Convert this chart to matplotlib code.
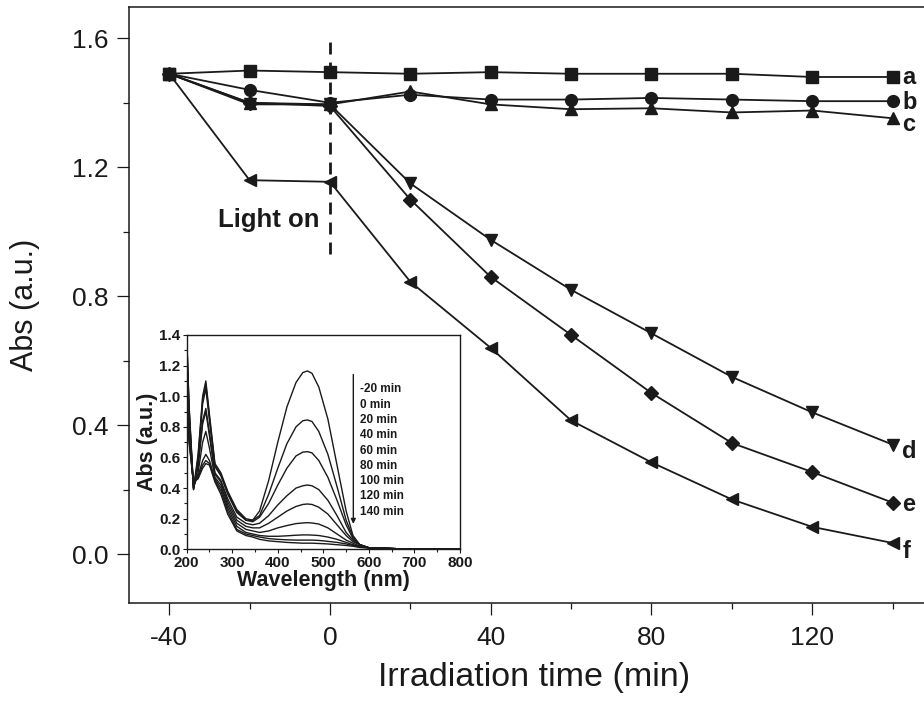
import numpy as np
import matplotlib
matplotlib.use('Agg')
import matplotlib.pyplot as plt
from matplotlib.ticker import MultipleLocator

plt.rcParams['font.family'] = ['Liberation Sans', 'DejaVu Sans']
plt.rcParams['axes.unicode_minus'] = False

# Main kinetics data (Abs at 465 nm vs irradiation time)
time_min = [-40, -20, 0, 20, 40, 60, 80, 100, 120, 140]
abs_a = [1.49, 1.50, 1.495, 1.49, 1.495, 1.49, 1.49, 1.49, 1.48, 1.48]
abs_b = [1.49, 1.44, 1.40, 1.425, 1.41, 1.41, 1.415, 1.41, 1.405, 1.405]
abs_c = [1.49, 1.40, 1.395, 1.435, 1.395, 1.38, 1.383, 1.37, 1.376, 1.352]
abs_d = [1.49, 1.395, 1.395, 1.15, 0.975, 0.82, 0.685, 0.55, 0.44, 0.34]
abs_e = [1.49, 1.40, 1.39, 1.10, 0.86, 0.68, 0.50, 0.345, 0.255, 0.16]
abs_f = [1.49, 1.16, 1.155, 0.845, 0.64, 0.415, 0.285, 0.17, 0.085, 0.035]

series_labels = ['a', 'b', 'c', 'd', 'e', 'f']
series_markers = ['s', 'o', '^', 'v', 'D', '<']
label_baselines = [1.458, 1.380, 1.313, 0.298, 0.135, -0.012]

# Inset: UV-vis spectra
wavelength = [200, 205, 215, 225, 235, 242, 250, 262, 275, 290, 310, 330, 345, 360,
              380, 400, 420, 440, 455, 465, 475, 490, 510, 530, 550, 565, 580, 600,
              700, 800]
spec_m20 = [1.40, 0.95, 0.40, 0.62, 1.00, 1.10, 0.88, 0.56, 0.50, 0.38, 0.26, 0.20, 0.19, 0.25,
            0.45, 0.70, 0.93, 1.09, 1.155, 1.165, 1.15, 1.06, 0.85, 0.55, 0.25, 0.09, 0.03, 0.01,
            0.0, 0.0]
spec_0 = [1.40, 0.94, 0.39, 0.60, 0.98, 1.08, 0.86, 0.55, 0.49, 0.37, 0.25, 0.19, 0.19, 0.22,
          0.36, 0.53, 0.69, 0.80, 0.84, 0.845, 0.835, 0.77, 0.62, 0.41, 0.19, 0.08, 0.03, 0.01,
          0.0, 0.0]
spec_20 = [1.38, 0.92, 0.39, 0.58, 0.95, 1.05, 0.84, 0.54, 0.48, 0.36, 0.24, 0.19, 0.18, 0.21,
           0.30, 0.42, 0.53, 0.61, 0.635, 0.638, 0.63, 0.58, 0.47, 0.32, 0.16, 0.07, 0.03, 0.01,
           0.0, 0.0]
spec_40 = [1.30, 0.88, 0.40, 0.55, 0.84, 0.92, 0.76, 0.50, 0.45, 0.33, 0.21, 0.17, 0.16, 0.17,
           0.22, 0.29, 0.35, 0.40, 0.415, 0.42, 0.415, 0.39, 0.32, 0.22, 0.11, 0.06, 0.03, 0.01,
           0.0, 0.0]
spec_60 = [1.28, 0.86, 0.40, 0.54, 0.82, 0.90, 0.74, 0.49, 0.44, 0.31, 0.19, 0.15, 0.14, 0.14,
           0.17, 0.21, 0.25, 0.28, 0.293, 0.296, 0.293, 0.275, 0.23, 0.16, 0.09, 0.05, 0.03, 0.01,
           0.0, 0.0]
spec_80 = [1.20, 0.80, 0.40, 0.50, 0.70, 0.77, 0.66, 0.47, 0.42, 0.29, 0.17, 0.13, 0.12, 0.11,
           0.12, 0.14, 0.155, 0.168, 0.172, 0.174, 0.172, 0.165, 0.14, 0.10, 0.06, 0.04, 0.02,
           0.01, 0.0, 0.0]
spec_100 = [1.10, 0.75, 0.42, 0.48, 0.58, 0.62, 0.58, 0.46, 0.40, 0.27, 0.15, 0.11, 0.10, 0.09,
            0.085, 0.085, 0.088, 0.092, 0.094, 0.094, 0.093, 0.09, 0.08, 0.065, 0.045, 0.03,
            0.02, 0.01, 0.0, 0.0]
spec_120 = [1.05, 0.72, 0.43, 0.47, 0.55, 0.58, 0.56, 0.45, 0.38, 0.25, 0.13, 0.10, 0.09, 0.08,
            0.07, 0.065, 0.062, 0.06, 0.06, 0.06, 0.06, 0.058, 0.052, 0.045, 0.035, 0.025,
            0.015, 0.01, 0.0, 0.0]
spec_140 = [1.00, 0.70, 0.44, 0.46, 0.53, 0.56, 0.55, 0.44, 0.36, 0.23, 0.12, 0.09, 0.08, 0.065,
            0.055, 0.05, 0.045, 0.042, 0.04, 0.04, 0.04, 0.038, 0.035, 0.03, 0.025, 0.02,
            0.012, 0.008, 0.0, 0.0]
spec_labels = ['-20 min', '0 min', '20 min', '40 min', '60 min', '80 min',
               '100 min', '120 min', '140 min']

ink = '#1a1a1a'

fig = plt.figure(figsize=(9.24, 7.06), dpi=100)
ax = fig.add_axes([129 / 924, 1 - 603.3 / 706, 1 - 129 / 924, (603.3 - 7) / 706])

all_series = [abs_a, abs_b, abs_c, abs_d, abs_e, abs_f]
msizes = [8, 8.5, 9, 9, 6.8, 9]
for vals, mk, ms, lab, yb in zip(all_series, series_markers, msizes, series_labels,
                                 label_baselines):
    ax.plot(time_min, vals, color=ink, lw=1.3, marker=mk, ms=ms, mfc=ink, mec=ink)
    ax.text(time_min[-1] + 2.4, yb, lab, fontsize=17, fontweight='bold',
            color=ink, ha='left', va='baseline')

# light on marker
ax.vlines(0, 0.93, 1.60, colors=ink, linestyles=(0, (4.3, 2.9)), lw=2.0)
ax.text(-2.5, 1.036, 'Light on', fontsize=18.5, fontweight='bold', color=ink,
        ha='right', va='center')

ax.set_xlim(-50, 147.8)
ax.set_ylim(-0.152, 1.697)
ax.xaxis.set_major_locator(MultipleLocator(40))
ax.xaxis.set_minor_locator(MultipleLocator(20))
ax.yaxis.set_major_locator(MultipleLocator(0.4))
ax.yaxis.set_minor_locator(MultipleLocator(0.2))
ax.yaxis.set_major_formatter(plt.FormatStrFormatter('%.1f'))
ax.tick_params(which='major', direction='out', length=8.5, width=0.9, labelsize=19,
               color=ink, labelcolor=ink)
ax.tick_params(which='minor', direction='out', length=4.5, width=0.9, color=ink)
ax.tick_params(axis='y', pad=6)
ax.tick_params(axis='x', pad=8)
ax.spines['right'].set_visible(False)
for s in ['left', 'top', 'bottom']:
    ax.spines[s].set_linewidth(1.1)
    ax.spines[s].set_color(ink)
ax.set_ylabel('Abs (a.u.)', fontsize=22, color=ink)
ax.set_xlabel('Irradiation time (min)', fontsize=24.5, color=ink)
ax.yaxis.set_label_coords(-0.112, 0.5)
ax.xaxis.set_label_coords(0.51, -0.098)

# Inset
ins = fig.add_axes([186.7 / 924, 1 - 549.3 / 706, (460 - 186.7) / 924, (549.3 - 335) / 706])
spectra = [spec_m20, spec_0, spec_20, spec_40, spec_60, spec_80, spec_100, spec_120, spec_140]
for sp in spectra:
    ins.plot(wavelength, sp, color=ink, lw=1.0)
ins.set_xlim(200, 800)
ins.set_ylim(0, 1.4)
ins.xaxis.set_major_locator(MultipleLocator(100))
ins.xaxis.set_minor_locator(MultipleLocator(50))
ins.yaxis.set_major_locator(MultipleLocator(0.2))
ins.yaxis.set_minor_locator(MultipleLocator(0.1))
ins.yaxis.set_major_formatter(plt.FormatStrFormatter('%.1f'))
ins.tick_params(which='major', direction='out', length=3, width=0.8, labelsize=11, pad=1.5,
                color=ink, labelcolor=ink)
ins.tick_params(which='minor', direction='out', length=2, width=0.8, color=ink)
for lbl in ins.get_xticklabels() + ins.get_yticklabels():
    lbl.set_fontweight('bold')
for s in ins.spines.values():
    s.set_linewidth(1.0)
    s.set_color(ink)
ins.set_xlabel('Wavelength (nm)', fontsize=15.5, fontweight='bold', color=ink, labelpad=0)
ins.set_ylabel('Abs (a.u.)', fontsize=15.5, fontweight='bold', color=ink, labelpad=1)

ins.annotate('', xy=(565.8, 0.148), xytext=(565.8, 1.16),
             arrowprops=dict(arrowstyle='-|>', color=ink, lw=1.0, mutation_scale=7))
for i, lab in enumerate(spec_labels):
    ins.text(580, 1.045 - 0.1 * i, lab, fontsize=8.5, fontweight='bold', color=ink,
             ha='left', va='center')

fig.savefig('out.png', dpi=100)
